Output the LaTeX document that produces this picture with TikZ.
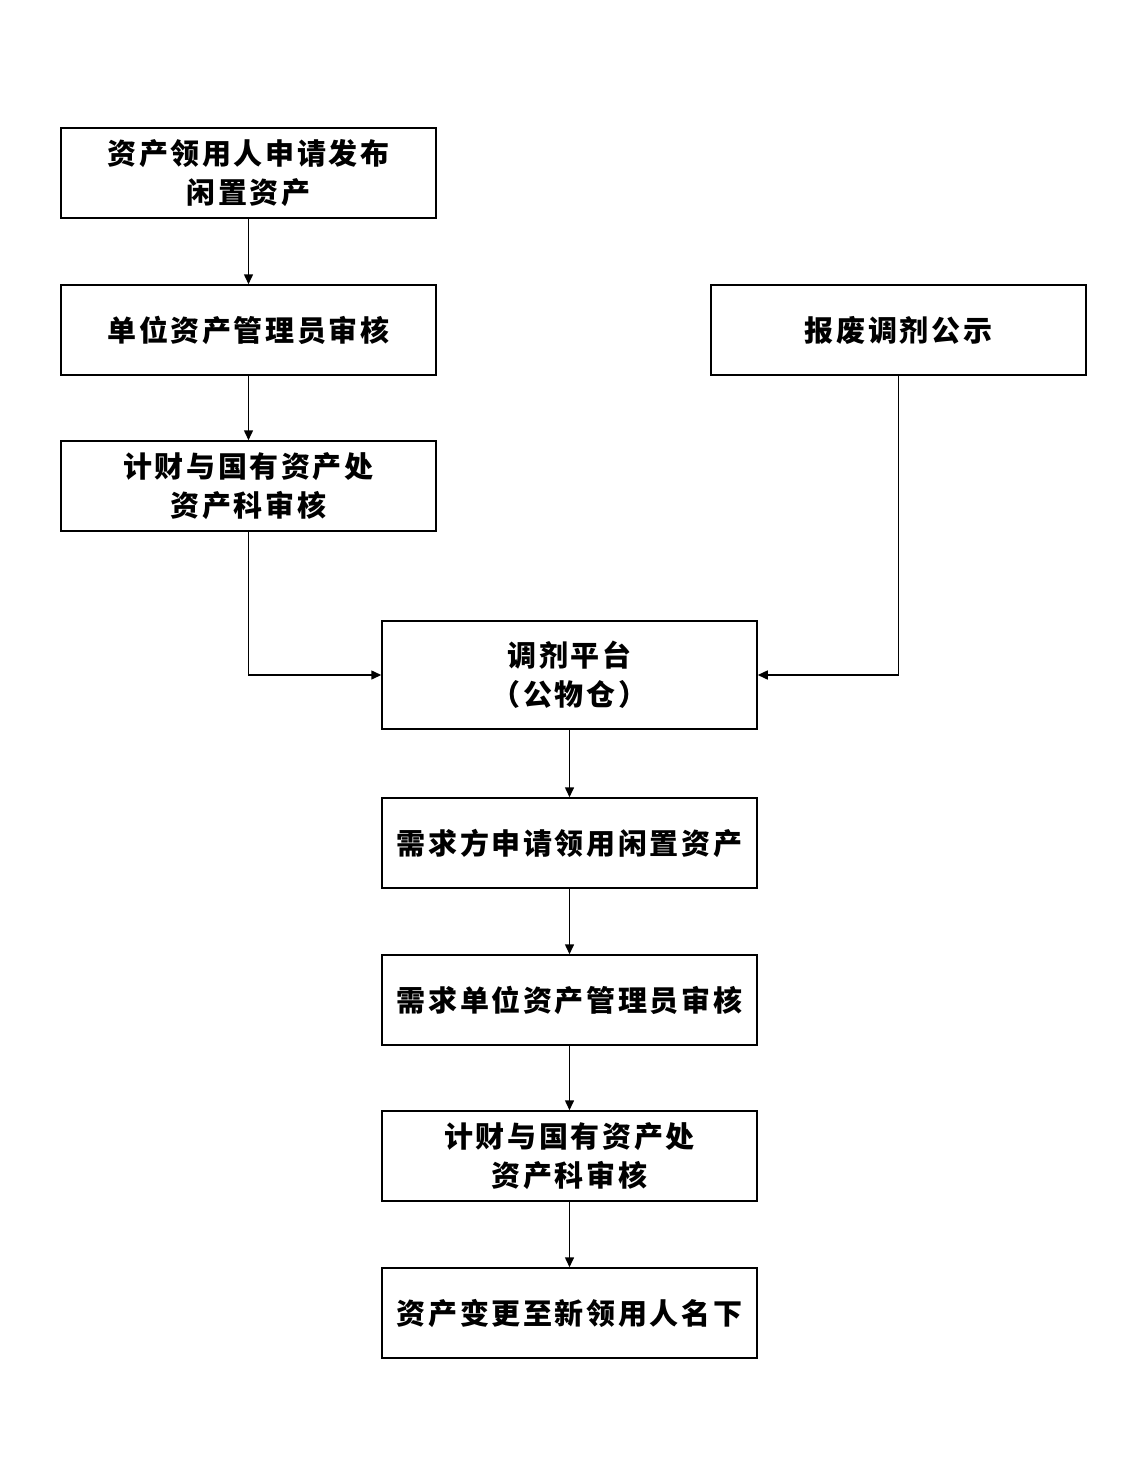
\documentclass[tikz,border=0pt]{standalone}
\usepackage{fontspec}
\newfontfamily\cjk[LetterSpace=9]{Noto Sans CJK SC}
\usetikzlibrary{arrows.meta}
\begin{document}
\begin{tikzpicture}[x=1pt,y=-1pt,
  box/.style={draw, line width=1.5pt, minimum width=375pt, minimum height=90pt, inner sep=0pt,
    align=center, font=\cjk\bfseries\fontsize{29}{39}\selectfont},
  arr/.style={line width=1.5pt, -{Triangle[length=10pt,width=9pt]}}]
\useasboundingbox (0,0) rectangle (1124,1482);
\node[box] (A) at (248.5,173) {资产领用人申请发布\\闲置资产};
\node[box] (B) at (248.5,330) {单位资产管理员审核};
\node[box] (C) at (248.5,486) {计财与国有资产处\\资产科审核};
\node[box] (R) at (898.5,330) {报废调剂公示};
\node[box, minimum height=108pt] (P) at (569.5,675) {调剂平台\\（公物仓）};
\node[box] (D) at (569.5,843) {需求方申请领用闲置资产};
\node[box] (E) at (569.5,1000) {需求单位资产管理员审核};
\node[box] (F) at (569.5,1156) {计财与国有资产处\\资产科审核};
\node[box] (G) at (569.5,1313) {资产变更至新领用人名下};
\draw[arr] (A) -- (B);
\draw[arr] (B) -- (C);
\draw[arr] (C.south) |- (P.west);
\draw[arr] (R.south) |- (P.east);
\draw[arr] (P) -- (D);
\draw[arr] (D) -- (E);
\draw[arr] (E) -- (F);
\draw[arr] (F) -- (G);
\end{tikzpicture}
\end{document}
